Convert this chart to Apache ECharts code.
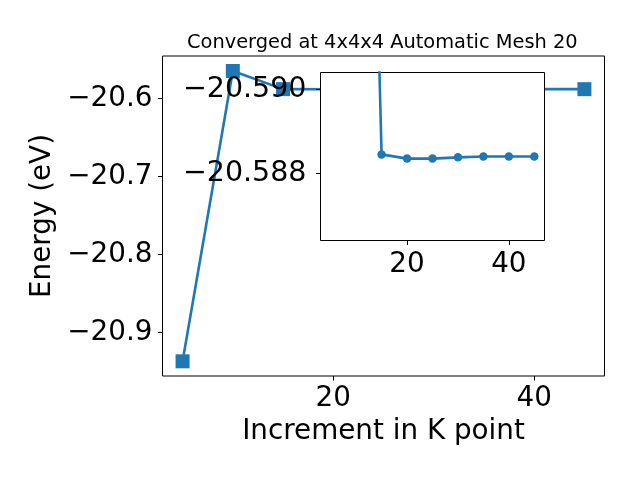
<!DOCTYPE html>
<html>
<head>
<meta charset="utf-8">
<script src="https://cdn.jsdelivr.net/npm/echarts@6/dist/echarts.min.js"></script>
<style>html,body{margin:0;padding:0;background:#fff}#c{width:640px;height:480px}</style>
</head>
<body>
<div id="c"></div>
<script>
// ---- data ----
const kPoints = [5, 10, 15, 20, 25, 30, 35, 40, 45];
const energy = [-20.937, -20.565, -20.58825, -20.58835, -20.58835, -20.58832, -20.5883, -20.5883, -20.5883];
const mainXTicks = [20, 40];
const mainYTicks = [-20.9, -20.8, -20.7, -20.6];
const insetXTicks = [20, 40];
const insetYTickValues = [-20.58670, -20.58870];
const insetYTickLabels = ['\u221220.590', '\u221220.588'];
const titleText = 'Converged at 4x4x4 Automatic Mesh 20';
const xName = 'Increment in K point';
const yName = 'Energy (eV)';

const FONT = 'DejaVu Sans';
const C = '#1f77b4';
const mainPts = kPoints.map((k, i) => [k, energy[i]]);
const insetPts = mainPts.slice(1);
const minus = s => s.replace('-', '\u2212');

const chart = echarts.init(document.getElementById('c'), null, {renderer: 'canvas'});
const tickStyle = {show: true, inside: false, length: 4.5, lineStyle: {color: '#000', width: 1}};
chart.setOption({
  animation: false,
  backgroundColor: '#fff',
  title: {
    text: titleText, left: 182, top: 28,
    textStyle: {fontFamily: FONT, fontSize: 19.4, fontWeight: 'normal', color: '#000'}
  },
  grid: [
    {left: 162.5, right: 35.5, top: 56, bottom: 104, show: true, borderColor: '#000', borderWidth: 1, backgroundColor: '#fff', containLabel: false},
    {left: 320.5, right: 95.5, top: 72.5, bottom: 239.5, show: true, borderColor: '#000', borderWidth: 1, backgroundColor: '#fff', containLabel: false, z: 10}
  ],
  xAxis: [
    {type: 'value', gridIndex: 0, min: 3, max: 47, splitLine: {show: false}, axisLine: {show: false},
     axisTick: Object.assign({customValues: mainXTicks}, tickStyle),
     axisLabel: {customValues: mainXTicks, fontFamily: FONT, fontSize: 27.8, color: '#000', margin: 9},
     name: xName, nameLocation: 'middle', nameGap: 40,
     nameTextStyle: {fontFamily: FONT, fontSize: 27.8, color: '#000'}},
    {type: 'value', gridIndex: 1, min: 3, max: 47, splitLine: {show: false}, axisLine: {show: false}, z: 12,
     axisTick: Object.assign({customValues: insetXTicks}, tickStyle),
     axisLabel: {customValues: insetXTicks, fontFamily: FONT, fontSize: 27.8, color: '#000', margin: 10}}
  ],
  yAxis: [
    {type: 'value', gridIndex: 0, min: -20.9558, max: -20.5458, splitLine: {show: false}, axisLine: {show: false},
     axisTick: Object.assign({customValues: mainYTicks}, tickStyle),
     axisLabel: {customValues: mainYTicks, fontFamily: FONT, fontSize: 27.8, color: '#000', margin: 10,
                 formatter: v => minus(v.toFixed(1))},
     name: yName, nameLocation: 'middle', nameGap: 104, nameRotate: 90,
     nameTextStyle: {fontFamily: FONT, fontSize: 27.8, color: '#000'}},
    {type: 'value', gridIndex: 1, min: -20.5903, max: -20.5863, splitLine: {show: false}, axisLine: {show: false}, z: 12,
     axisTick: Object.assign({customValues: insetYTickValues}, tickStyle),
     axisLabel: {customValues: insetYTickValues, fontFamily: FONT, fontSize: 28.5, color: '#000', margin: 14,
                 formatter: v => {
                   let best = 0;
                   insetYTickValues.forEach((t, i) => { if (Math.abs(t - v) < Math.abs(insetYTickValues[best] - v)) best = i; });
                   return insetYTickLabels[best];
                 }}}
  ],
  series: [
    {type: 'line', xAxisIndex: 0, yAxisIndex: 0, data: mainPts, symbol: 'rect', symbolSize: 14,
     lineStyle: {color: C, width: 2.6}, itemStyle: {color: C}, z: 2, clip: true},
    {type: 'line', xAxisIndex: 1, yAxisIndex: 1, data: insetPts, symbol: 'circle', symbolSize: 8.5, showSymbol: true,
     lineStyle: {color: C, width: 2.6}, itemStyle: {color: C}, z: 11, clip: true}
  ]
});
</script>
</body>
</html>
